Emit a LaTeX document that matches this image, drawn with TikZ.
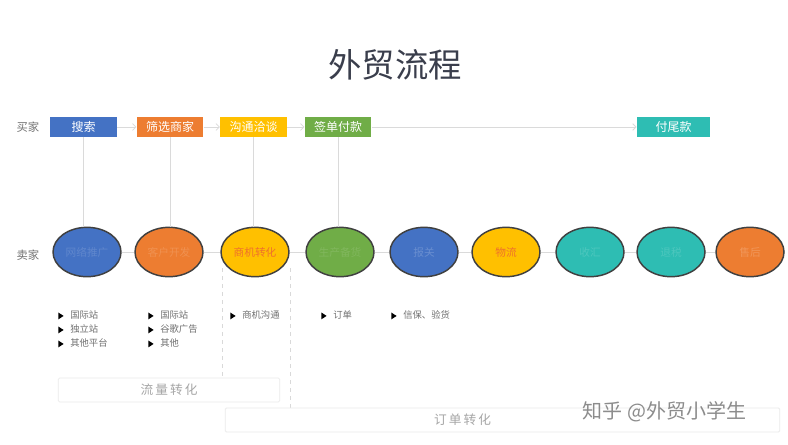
\documentclass[tikz,border=0pt]{standalone}
\usepackage{fontspec}
\setmainfont{Noto Sans CJK SC}
\usetikzlibrary{shapes.geometric,arrows.meta}
\definecolor{cblue}{HTML}{4472C4}
\definecolor{corange}{HTML}{ED7D31}
\definecolor{cyellow}{HTML}{FFC000}
\definecolor{cgreen}{HTML}{70AD47}
\definecolor{cteal}{HTML}{2EBDB3}
\definecolor{lgray}{HTML}{DADADA}
\definecolor{tgray}{HTML}{707070}
\definecolor{ctitle}{HTML}{3A3E4C}
\tikzset{
buyer/.style={
	  fill=#1, text=white, minimum width=50pt, minimum height=15pt,
	    inner sep=0pt, font=\fontsize{9}{10}\selectfont},
seller/.style={
	  ellipse, draw=black!75, line width=1.1pt, fill=#1,
	    minimum width=51pt, minimum height=37pt, inner sep=0pt,
    font=\fontsize{8}{9}\selectfont},
flow/.style={lgray, line width=0.6pt},
bullet/.style={anchor=west, inner sep=0pt, font=\fontsize{7}{8}\selectfont, text=tgray},
stagebox/.style={draw=black!8, line width=0.6pt, fill=white, rounded corners=1pt}
}
\newcommand{\tri}{\tikz[x=1pt, y=1pt, baseline=-0.5ex]\fill[black] (0,2.6) -- (4,0) -- (0,-2.6) -- cycle;\hspace{5pt}}

\begin{document}
\begin{tikzpicture}[x=0.75pt, y=-0.75pt]
	\useasboundingbox (0,0) rectangle (788,444);
	\fill[white] (0,0) rectangle (788,444);
	% title
	\node[font=\fontsize{25}{28}\selectfont, text=ctitle] (title) at (395,65) {外贸流程};
	\node[font=\fontsize{8.5}{9}\selectfont, text=tgray] (buyerlab) at (28,127) {买家};
	\node[font=\fontsize{8.5}{9}\selectfont, text=tgray] (sellerlab) at (28,255) {卖家};
	% buyer steps
	\node[buyer=cblue] (s1) at (83.5,127) {搜索};
	\node[buyer=corange] (s2) at (170,127) {筛选商家};
	\node[buyer=cyellow] (s3) at (253.5,127) {沟通洽谈};
	\node[buyer=cgreen] (s4) at (338,127) {签单付款};
	\node[buyer=cteal, minimum width=55pt] (s5) at (673.5,127) {付尾款};
	\foreach \a/\b in {s1/s2, s2/s3, s3/s4, s4/s5}
		\draw[flow, -{Straight Barb[length=2.5pt, width=5pt]}] (\a) -- (\b);
	% seller steps
	\node[seller=cblue, text=cblue!85!white] (e1) at (87,252) {网络推广};
	\node[seller=corange, text=corange!85!white] (e2) at (169,252) {客户开发};
	\node[seller=cyellow, text=corange!90!red] (e3) at (255,252) {商机转化};
	\node[seller=cgreen, text=cgreen!88!white] (e4) at (340,252) {生产备货};
	\node[seller=cblue, text=cblue!80!white] (e5) at (424,252) {报关};
	\node[seller=cyellow, text=corange!90!red] (e6) at (506,252) {物流};
	\node[seller=cteal, text=cteal!85!white] (e7) at (590,252) {收汇};
	\node[seller=cteal, text=cteal!85!white] (e8) at (671,252) {退税};
	\node[seller=corange, text=corange!80!white] (e9) at (750,252) {售后};
	\foreach \a/\b in {e1/e2, e2/e3, e3/e4, e4/e5, e5/e6, e6/e7, e7/e8, e8/e9}
		\draw[flow] (\a) -- (\b);
	\foreach \i in {1,2,3,4}
		\draw[flow] (s\i.south) -- (s\i.south |- e\i.north);
	% details
	\node[bullet] (d1) at (58,315) {\tri 国际站};
	\node[bullet] (d2) at (58,329) {\tri 独立站};
	\node[bullet] (d3) at (58,343) {\tri 其他平台};
	\node[bullet] (d4) at (148,315) {\tri 国际站};
	\node[bullet] (d5) at (148,329) {\tri 谷歌广告};
	\node[bullet] (d6) at (148,343) {\tri 其他};
	\node[bullet] (d7) at (230,315) {\tri 商机沟通};
	\node[bullet] (d8) at (321,315) {\tri 订单};
	\node[bullet] (d9) at (391,315) {\tri 信保、验货};
	% stages
	\coordinate (dl) at (222,268);
	\coordinate (dr) at (290,268);
	\draw[black!15, dashed, line width=0.6pt] (dl) -- ++(0,109);
	\draw[black!15, dashed, line width=0.6pt] (dr) -- ++(0,140);
	\node[stagebox, minimum width=166pt, minimum height=18pt, text=black!35,
		font=\fontsize{9.5}{10}\selectfont] (traffic) at (169,390) {流\,量\,转\,化};
	\node[stagebox, minimum width=416pt, minimum height=18pt, text=black!35,
		font=\fontsize{9.5}{10}\selectfont] (order) at (502.5,420) {\hspace{-60pt}订\,单\,转\,化};
	\node[font=\fontsize{15}{16}\selectfont, text=black!45, anchor=west] (mark) at (578,412) {知乎 @外贸小学生};
\end{tikzpicture}
\end{document}
